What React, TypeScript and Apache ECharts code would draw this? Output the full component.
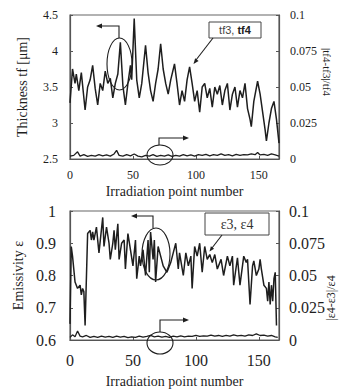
import React, { useEffect, useRef } from "react";
import * as echarts from "echarts";

// ---- data ----
const xTicks = [0, 50, 100, 150];

const tfX = [0,2,4,5,7,9,12,14,16,18,20,22,24,26,28,30,32,34,36,38,40,42,44,46,48,49,51,53,55,57,60,62,64,66,68,70,72,74,76,78,80,83,85,87,89,91,93,95,97,99,101,103,105,107,109,111,113,115,117,119,121,123,125,127,129,131,133,135,137,139,141,143,144,146,149,151,153,155,156,158,160,162,164,166];
const tfV = [3.28,3.75,3.55,3.68,3.45,3.70,3.18,3.50,3.60,3.80,3.48,3.25,3.55,3.45,3.72,3.55,3.62,3.35,3.55,3.68,4.12,3.52,3.25,3.55,3.80,3.60,4.45,3.60,3.35,3.55,4.08,3.70,3.45,3.30,3.55,3.75,4.10,3.75,3.55,3.40,3.60,3.82,3.55,3.25,3.45,3.30,3.60,3.78,3.55,3.30,3.45,3.15,3.50,3.55,3.35,3.48,3.22,3.50,3.40,3.52,3.25,3.45,3.55,3.18,3.40,3.50,3.22,3.45,3.35,3.55,3.20,3.05,2.95,3.30,3.58,3.40,3.15,2.90,2.75,3.00,3.20,3.30,3.05,2.72];

const tfDiffX = [0,3,6,8,11,14,17,20,23,26,29,32,35,37,39,42,45,48,51,54,57,60,63,66,69,72,75,78,81,84,87,90,93,96,99,102,105,108,111,114,117,120,123,126,129,132,135,138,141,144,147,149,151,154,157,160,163,166];
const tfDiffV = [0.0020,0.0025,0.0050,0.0020,0.0030,0.0018,0.0025,0.0020,0.0030,0.0022,0.0028,0.0020,0.0035,0.0060,0.0025,0.0020,0.0030,0.0022,0.0035,0.0020,0.0015,0.0025,0.0020,0.0030,0.0018,0.0025,0.0020,0.0028,0.0018,0.0025,0.0020,0.0030,0.0022,0.0028,0.0020,0.0030,0.0025,0.0032,0.0022,0.0030,0.0025,0.0035,0.0025,0.0030,0.0022,0.0032,0.0025,0.0030,0.0028,0.0035,0.0030,0.0045,0.0028,0.0032,0.0025,0.0035,0.0028,0.0020];

const eX = [0,1,2,4,6,8,9,10,11,12,14,16,17,18,19,21,23,26,27,29,31,32,34,35,36,38,39,41,43,44,46,48,50,52,53,55,56,58,60,62,63,64,66,67,68,70,72,74,77,80,82,84,86,87,90,92,94,96,97,99,101,103,105,107,109,111,113,115,117,120,122,125,127,129,130,133,135,138,140,141,143,145,146,148,150,151,152,154,156,157,158,159,160,161,162,163,164];
const eV = [0.65,0.89,0.86,0.78,0.76,0.77,0.74,0.76,0.75,0.645,0.93,0.94,0.91,0.935,0.91,0.95,0.87,0.98,0.89,0.95,0.90,0.85,0.90,0.94,0.88,0.96,0.85,0.90,0.91,0.82,0.93,0.88,0.83,0.91,0.79,0.86,0.83,0.88,0.80,0.91,0.81,0.935,0.85,0.91,0.78,0.89,0.86,0.83,0.81,0.84,0.87,0.90,0.82,0.87,0.80,0.87,0.83,0.86,0.76,0.89,0.86,0.90,0.81,0.89,0.85,0.865,0.84,0.865,0.82,0.85,0.80,0.86,0.83,0.86,0.77,0.855,0.77,0.86,0.84,0.85,0.71,0.83,0.845,0.80,0.82,0.85,0.82,0.77,0.76,0.72,0.78,0.71,0.77,0.72,0.79,0.81,0.645];

const eDiffX = [0,2,4,6,8,10,13,16,19,22,25,28,31,34,37,40,43,46,49,52,55,58,61,64,67,70,73,76,79,82,85,88,91,94,97,100,103,106,109,112,115,118,121,124,127,130,133,136,139,142,145,148,151,154,157,160,163,165];
const eDiffV = [0.0020,0.0040,0.0025,0.0070,0.0030,0.0025,0.0035,0.0020,0.0028,0.0020,0.0030,0.0022,0.0028,0.0020,0.0030,0.0022,0.0028,0.0018,0.0025,0.0020,0.0030,0.0022,0.0028,0.0035,0.0025,0.0030,0.0022,0.0028,0.0020,0.0030,0.0025,0.0032,0.0025,0.0030,0.0028,0.0035,0.0028,0.0032,0.0030,0.0038,0.0030,0.0035,0.0028,0.0036,0.0030,0.0040,0.0032,0.0036,0.0030,0.0040,0.0035,0.0048,0.0035,0.0038,0.0030,0.0035,0.0025,0.0020];

const SERIF = '"Liberation Serif", "Times New Roman", serif';
const SANS = '"Liberation Sans", Arial, sans-serif';
const INK = "#1e1e1e";

const pairs = (xs: number[], ys: number[]) => xs.map((x, i) => [x, ys[i]]);

function xAxis(gridIndex: number, fontSize: number, margin: number, nameGap: number) {
  return {
    type: "value",
    gridIndex,
    min: 0,
    max: 166,
    interval: 50,
    name: "Irradiation point number",
    nameLocation: "middle",
    nameGap,
    nameTextStyle: { fontFamily: SERIF, fontSize: 14, color: INK },
    axisLine: { show: true, lineStyle: { color: "#555", width: 1.2 } },
    axisTick: { show: true, inside: true, length: 3, lineStyle: { color: "#555" } },
    axisLabel: {
      fontFamily: SERIF,
      fontSize,
      color: INK,
      margin,
      formatter: (v: number) => (xTicks.indexOf(v) >= 0 ? String(v) : ""),
    },
    splitLine: { show: false },
  };
}

function yAxis(gridIndex: number, position: string, min: number, max: number, interval: number, fontSize: number, margin: number, extra: any = {}) {
  return {
    type: "value",
    gridIndex,
    position,
    min,
    max,
    interval,
    axisLine: { show: true, lineStyle: { color: "#555", width: 1.2 } },
    axisTick: { show: true, inside: true, length: 3, lineStyle: { color: "#555" } },
    axisLabel: { fontFamily: SERIF, fontSize, color: INK, margin, ...(extra.axisLabel || {}) },
    splitLine: { show: false },
    ...extra.rest,
  };
}

function arrowHead(tx: number, ty: number, dx: number, dy: number, len = 6, half = 2.5) {
  const l = Math.hypot(dx, dy);
  const ux = dx / l, uy = dy / l;
  const bx = tx - ux * len, by = ty - uy * len;
  const px = -uy, py = ux;
  return {
    type: "polygon",
    shape: { points: [[tx, ty], [bx + px * half, by + py * half], [bx - px * half, by - py * half]] },
    style: { fill: INK },
    z: 100,
  };
}

const lineStyle = { stroke: INK, lineWidth: 1.1, fill: null as any };

export default function App() {
  const ref = useRef<HTMLDivElement>(null);
  useEffect(() => {
    if (!ref.current) return;
    const chart = echarts.init(ref.current, null, { renderer: "svg" });
    chart.setOption({
      animation: false,
      backgroundColor: "#fff",
      grid: [
        { left: 70, top: 15, width: 209, height: 144, show: true, borderColor: "#666", borderWidth: 1.2 },
        { left: 70, top: 211, width: 209, height: 130, show: true, borderColor: "#666", borderWidth: 1.2 },
      ],
      xAxis: [xAxis(0, 12, 10, 25), xAxis(1, 16, 12, 34)],
      yAxis: [
        yAxis(0, "left", 2.5, 4.5, 0.5, 12, 12, {
          rest: {
            name: "Thickness tf [\u03bcm]",
            nameLocation: "middle",
            nameGap: 41,
            nameTextStyle: { fontFamily: SERIF, fontSize: 14, color: INK },
          },
        }),
        yAxis(0, "right", 0, 0.1, 0.025, 12, 11),
        yAxis(1, "left", 0.6, 1, 0.1, 16, 14, {
          axisLabel: { formatter: (v: number) => String(Math.round(v * 10) / 10) },
          rest: {
            name: "Emissivity \u03b5",
            nameLocation: "middle",
            nameGap: 41,
            nameTextStyle: { fontFamily: SERIF, fontSize: 14, color: INK },
          },
        }),
        yAxis(1, "right", 0, 0.1, 0.025, 16, 10),
      ],
      series: [
        { name: "tf3, tf4", type: "line", xAxisIndex: 0, yAxisIndex: 0, data: pairs(tfX, tfV), symbol: "none", lineStyle: { color: INK, width: 1.5 } },
        { name: "|tf4-tf3|/tf4", type: "line", xAxisIndex: 0, yAxisIndex: 1, data: pairs(tfDiffX, tfDiffV), symbol: "none", lineStyle: { color: INK, width: 1.3 } },
        { name: "\u03b53, \u03b54", type: "line", xAxisIndex: 1, yAxisIndex: 2, data: pairs(eX, eV), symbol: "none", lineStyle: { color: INK, width: 1.5 } },
        { name: "|\u03b54-\u03b53|/\u03b54", type: "line", xAxisIndex: 1, yAxisIndex: 3, data: pairs(eDiffX, eDiffV), symbol: "none", lineStyle: { color: INK, width: 1.3 } },
      ],
      graphic: [
        // right axis names
        { type: "text", x: 327, y: 72, rotation: -Math.PI / 2, style: { text: "|tf4-tf3|/tf4", font: `11px ${SERIF}`, fill: INK, align: "center", verticalAlign: "middle" } },
        { type: "text", x: 331, y: 298, rotation: Math.PI / 2, style: { text: "|\u03b54-\u03b53|/\u03b54", font: `12px ${SERIF}`, fill: INK, align: "center", verticalAlign: "middle" } },
        // top chart annotations
        { type: "ellipse", shape: { cx: 119.5, cy: 64, rx: 12.5, ry: 26 }, style: lineStyle, z: 100 },
        { type: "polyline", shape: { points: [[119, 38], [119, 26], [101, 26]] }, style: lineStyle, z: 100 },
        arrowHead(96, 26, -1, 0),
        { type: "ellipse", shape: { cx: 160, cy: 155, rx: 13, ry: 10 }, style: lineStyle, z: 100 },
        { type: "polyline", shape: { points: [[159, 145], [159, 138], [184, 138]] }, style: lineStyle, z: 100 },
        arrowHead(189, 138, 1, 0),
        { type: "rect", shape: { x: 209, y: 22, width: 52, height: 16 }, style: { stroke: "#444", lineWidth: 1, fill: "#fff" }, z: 100 },
        {
          type: "text", x: 235, y: 30, z: 101,
          style: {
            text: "{a|tf3, }{b|tf4}",
            align: "center", verticalAlign: "middle",
            rich: {
              a: { fontFamily: SANS, fontSize: 11, fill: "#444", color: "#444" },
              b: { fontFamily: SANS, fontSize: 11, fontWeight: "bold", fill: "#222", color: "#222" },
            },
          },
        },
        { type: "line", shape: { x1: 213, y1: 38, x2: 196, y2: 60 }, style: lineStyle, z: 100 },
        arrowHead(193.5, 64, -17, 22, 5.5, 2.2),
        // bottom chart annotations
        { type: "ellipse", shape: { cx: 156, cy: 254, rx: 14, ry: 26 }, style: lineStyle, z: 100 },
        { type: "polyline", shape: { points: [[153, 228], [153, 216], [136, 216]] }, style: lineStyle, z: 100 },
        arrowHead(131, 216, -1, 0),
        { type: "ellipse", shape: { cx: 160, cy: 343, rx: 13, ry: 11 }, style: lineStyle, z: 100 },
        { type: "polyline", shape: { points: [[160, 332], [160, 320], [184, 320]] }, style: lineStyle, z: 100 },
        arrowHead(189, 320, 1, 0),
        { type: "rect", shape: { x: 205, y: 213, width: 64, height: 22 }, style: { stroke: "#444", lineWidth: 1, fill: "#fff" }, z: 100 },
        { type: "text", x: 237, y: 224, z: 101, style: { text: "\u03b53, \u03b54", font: `14px ${SERIF}`, fill: "#333", align: "center", verticalAlign: "middle" } },
        { type: "line", shape: { x1: 222, y1: 235, x2: 212, y2: 248 }, style: lineStyle, z: 100 },
        arrowHead(209.5, 251.5, -12, 16, 5, 2),
      ],
    });
    return () => chart.dispose();
  }, []);
  return <div ref={ref} style={{ position: "absolute", left: 0, top: 0, width: 340, height: 389, background: "#fff" }} />;
}
